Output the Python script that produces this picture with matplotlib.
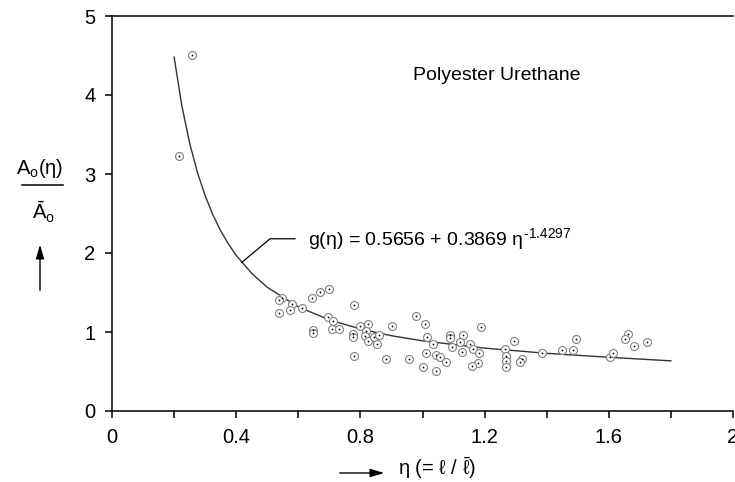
import matplotlib
matplotlib.use("Agg")
import matplotlib.pyplot as plt
from matplotlib.lines import Line2D

plt.rcParams['font.family'] = ['Liberation Sans', 'DejaVu Sans']
plt.rcParams['mathtext.fontset'] = 'custom'
plt.rcParams['mathtext.rm'] = 'Liberation Sans'
plt.rcParams['mathtext.it'] = 'Liberation Sans'

# measured points (eta, A/Abar)
eta = [0.217, 0.257, 0.546, 0.538, 0.538, 0.581, 0.574, 0.613, 0.643, 0.670,
       0.700, 0.778, 0.697, 0.713, 0.708, 0.730, 0.646, 0.646, 0.775, 0.775,
       0.780, 0.799, 0.826, 0.818, 0.815, 0.823, 0.845, 0.859, 0.853, 0.902,
       0.883, 0.955, 0.980, 1.008, 1.014, 1.011, 1.003, 1.034, 1.043, 1.055,
       1.075, 1.043, 1.090, 1.090, 1.095, 1.131, 1.121, 1.128, 1.152, 1.162,
       1.181, 1.187, 1.178, 1.158, 1.266, 1.269, 1.269, 1.270, 1.296, 1.319,
       1.314, 1.386, 1.448, 1.484, 1.493, 1.605, 1.614, 1.663, 1.653, 1.682,
       1.723]
ratio = [3.23, 4.51, 1.434, 1.405, 1.236, 1.354, 1.278, 1.304, 1.434, 1.51,
         1.54, 1.342, 1.186, 1.143, 1.034, 1.034, 1.025, 0.983, 0.975, 0.937,
         0.696, 1.076, 1.101, 1.008, 0.949, 0.89, 0.94, 0.966, 0.848, 1.072,
         0.662, 0.662, 1.203, 1.101, 0.937, 0.73, 0.553, 0.848, 0.71, 0.68,
         0.62, 0.506, 0.962, 0.928, 0.814, 0.958, 0.87, 0.751, 0.848, 0.781,
         0.73, 1.063, 0.603, 0.57, 0.781, 0.696, 0.637, 0.561, 0.89, 0.654,
         0.62, 0.73, 0.772, 0.772, 0.911, 0.688, 0.73, 0.971, 0.911, 0.823,
         0.87]

# fitted curve as drawn
eta_fit = [0.2, 0.225, 0.25, 0.275, 0.3, 0.325, 0.35, 0.375, 0.4, 0.45, 0.5,
           0.6, 0.7, 0.8, 0.9, 1.0, 1.2, 1.4, 1.6, 1.8]
g_fit = [4.48, 3.863, 3.39, 3.021, 2.725, 2.483, 2.28, 2.114, 1.97, 1.741, 1.566,
         1.318, 1.154, 1.038, 0.953, 0.888, 0.796, 0.73, 0.68, 0.635]

fig = plt.figure(figsize=(7.35, 4.82), dpi=100)
ax = fig.add_axes([112 / 735, 71 / 482, 621 / 735, 395 / 482])

ax.plot(eta_fit, g_fit, color='#333333', lw=1.0, zorder=2)
ax.plot(eta, ratio, ls='none', marker='o', ms=5.7, mfc='white', mec='#808080',
        mew=0.8, zorder=3)
ax.plot(eta, ratio, ls='none', marker='o', ms=1.3, mfc='black', mec='black',
        mew=0, zorder=4)

# leader + equation
ax.plot([0.418, 0.509, 0.589], [1.88, 2.18, 2.18], color='black', lw=0.9)
ax.text(0.631, 2.18, r'g($\eta$) = 0.5656 + 0.3869 $\eta^{\text{-1.4297}}$',
        fontsize=14, va='center', ha='left')
ax.text(1.24, 4.25, 'Polyester Urethane', fontsize=14, ha='center', va='center')

ax.set_xlim(0, 2)
ax.set_ylim(0, 5)
ax.set_xticks([0, 0.4, 0.8, 1.2, 1.6, 2.0])
ax.set_xticklabels(['0', '0.4', '0.8', '1.2', '1.6', '2'])
ax.set_xticks([0.2, 0.6, 1.0, 1.4, 1.8], minor=True)
ax.set_yticks([0, 1, 2, 3, 4, 5])
ax.tick_params(which='both', direction='out', length=5, width=1.1,
               labelsize=14.5, pad=7)
ax.spines['right'].set_visible(False)
for s in ['left', 'bottom', 'top']:
    ax.spines[s].set_linewidth(1.1)

# y label as a fraction with an up arrow
fig.text(40 / 735, 1 - 168 / 482, r'A$_\mathrm{o}$($\eta$)', fontsize=14.5,
         ha='center', va='center')
fig.add_artist(Line2D([22 / 735, 63 / 735], [1 - 185 / 482, 1 - 185 / 482],
                      color='black', lw=1.1))
fig.text(43 / 735, 1 - 212 / 482, r'$\bar{\mathrm{A}}_\mathrm{o}$', fontsize=14.5,
         ha='center', va='center')
fig.add_artist(plt.Annotation('', xy=(40 / 735, 1 - 242 / 482),
                              xytext=(40 / 735, 1 - 293 / 482),
                              xycoords='figure fraction',
                              arrowprops=dict(arrowstyle='-|>,head_length=0.6,head_width=0.18',
                                              color='black', lw=1.0,
                                              mutation_scale=14)))

# x label with a right arrow
fig.add_artist(plt.Annotation('', xy=(387 / 735, 1 - 473 / 482),
                              xytext=(337 / 735, 1 - 473 / 482),
                              xycoords='figure fraction',
                              arrowprops=dict(arrowstyle='-|>,head_length=0.6,head_width=0.18',
                                              color='black', lw=1.0,
                                              mutation_scale=14)))
fig.text(398 / 735, 1 - 468 / 482, r'$\eta$ (= $\ell$ / $\bar{\ell}$)',
         fontsize=14.5, ha='left', va='center')

fig.savefig('out.png', dpi=100)
